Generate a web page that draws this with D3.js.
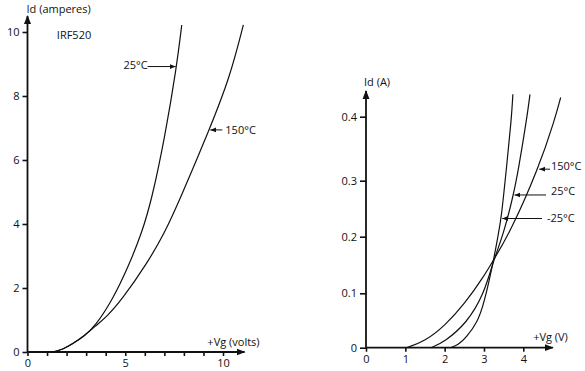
<!DOCTYPE html>
<html>
<head>
<meta charset="utf-8">
<script src="https://cdn.jsdelivr.net/npm/d3@7"></script>
<style>
  body { margin: 0; background: #fff; }
  svg { display: block; font-family: 'Open Sans', sans-serif; font-size: 11px; }
  text { fill: #111; }
</style>
</head>
<body>
<svg id="chart" width="585" height="371"></svg>
<script>
// left panel: IRF520, Id (A) vs Vg (V)
const leftCurve25 = [[1.3, 0], [1.8, 0.08], [2.3, 0.25], [2.9, 0.5], [3.45, 0.8], [4.35, 1.63], [5.16, 2.67], [5.84, 3.71], [6.35, 4.75], [7.03, 6.73], [7.63, 8.92], [7.89, 10.22]];
const leftCurve150 = [[1.3, 0], [1.8, 0.08], [2.3, 0.25], [2.9, 0.5], [3.45, 0.8], [4.05, 1.1], [4.82, 1.63], [6.1, 2.75], [7.03, 3.74], [7.78, 4.75], [9.3, 6.94], [10.36, 8.6], [11.04, 10.22]];
const leftYTicks = [0, 2, 4, 6, 8, 10];
const leftXTicks = [0, 1, 2, 3, 4, 5, 6, 7, 8, 9, 10];
const leftXLabels = [0, 5, 10];

// right panel: low current region
const rightCurve150 = [[1.03, 0], [1.5, 0.012], [2.0, 0.04], [2.5, 0.08], [3.0, 0.13], [3.25, 0.16], [3.66, 0.207], [4.38, 0.318], [4.81, 0.3975], [4.95, 0.43]];
const rightCurve25 = [[1.65, 0], [2.0, 0.011], [2.56, 0.045], [3.0, 0.098], [3.25, 0.16], [3.49, 0.203], [3.75, 0.2745], [3.88, 0.319], [4.09, 0.3975], [4.17, 0.435]];
const rightCurveM25 = [[2.14, 0], [2.35, 0.005], [2.56, 0.02], [2.82, 0.045], [3.0, 0.08], [3.25, 0.16], [3.36, 0.203], [3.44, 0.2325], [3.57, 0.319], [3.7, 0.3975], [3.735, 0.435]];
const rightYTicks = [0, 0.1, 0.2, 0.3, 0.4];
const rightXTicks = [0, 1, 2, 3, 4];

// callouts: label text and the point on the curve it points at
const leftNotes = [
  { label: '25°C', at: [7.63, 8.92], side: 'left' },
  { label: '150°C', at: [9.3, 6.94], side: 'right' }
];
const rightNotes = [
  { label: '150°C', at: [4.38, 0.318] },
  { label: '25°C', at: [3.75, 0.2745] },
  { label: '-25°C', at: [3.44, 0.2325] }
];

const svg = d3.select('#chart');
const ink = '#111';

const defs = svg.append('defs');
defs.append('marker')
  .attr('id', 'axisArrow')
  .attr('viewBox', '0 -4 9 8')
  .attr('refX', 8).attr('refY', 0)
  .attr('markerUnits', 'userSpaceOnUse')
  .attr('markerWidth', 9).attr('markerHeight', 8)
  .attr('orient', 'auto')
  .append('path').attr('d', 'M0,-3.5L9,0L0,3.5Z').attr('fill', ink);
defs.append('marker')
  .attr('id', 'noteArrow')
  .attr('viewBox', '0 -3 6 6')
  .attr('refX', 6).attr('refY', 0)
  .attr('markerUnits', 'userSpaceOnUse')
  .attr('markerWidth', 6).attr('markerHeight', 6)
  .attr('orient', 'auto')
  .append('path').attr('d', 'M0,-2.5L6,0L0,2.5Z').attr('fill', ink);

function styleAxis(g) {
  g.select('.domain').remove();
  g.selectAll('.tick line').attr('stroke', ink).attr('stroke-width', 1.6);
  g.selectAll('.tick text').attr('fill', ink).style('font-size', '11px')
    .style('font-family', "'Open Sans', sans-serif");
}

// ---------- left panel ----------
const xL = d3.scaleLinear().domain([0, 10]).range([27.5, 223]);
const yL = d3.scaleLinear().domain([0, 10]).range([352, 32]);

svg.append('g')
  .attr('transform', `translate(0,${yL(0)})`)
  .call(d3.axisBottom(xL).tickValues(leftXTicks).tickSize(4).tickPadding(3)
    .tickFormat(d => leftXLabels.includes(d) ? d : ''))
  .call(styleAxis);

svg.append('g')
  .attr('transform', `translate(${xL(0)},0)`)
  .call(d3.axisLeft(yL).tickValues(leftYTicks).tickSize(5).tickPadding(3).tickFormat(d => String(d)))
  .call(styleAxis);

svg.append('line')
  .attr('x1', xL(0)).attr('y1', yL(0)).attr('x2', xL(11.1)).attr('y2', yL(0))
  .attr('stroke', ink).attr('stroke-width', 1.8).attr('marker-end', 'url(#axisArrow)');
svg.append('line')
  .attr('x1', xL(0)).attr('y1', yL(0)).attr('x2', xL(0)).attr('y2', yL(10.5))
  .attr('stroke', ink).attr('stroke-width', 1.8).attr('marker-end', 'url(#axisArrow)');

const lineL = d3.line().x(d => xL(d[0])).y(d => yL(d[1])).curve(d3.curveBasis);
svg.selectAll('.curveL')
  .data([leftCurve25, leftCurve150])
  .enter().append('path')
  .attr('class', 'curveL')
  .attr('d', lineL)
  .attr('fill', 'none').attr('stroke', ink).attr('stroke-width', 1.2);

svg.append('text').attr('x', xL(0) - 1).attr('y', yL(10.5) - 7).attr('dy', '0.35em').text('Id (amperes)');
svg.append('text').attr('x', xL(1.5)).attr('y', yL(9.9)).attr('dy', '0.35em').text('IRF520');
svg.append('text').attr('x', xL(9.2)).attr('y', yL(0) - 10).attr('dy', '0.35em').text('+Vg (volts)');

leftNotes.forEach(n => {
  const px = xL(n.at[0]), py = yL(n.at[1]);
  if (n.side === 'left') {
    svg.append('line').attr('x1', px - 29).attr('y1', py).attr('x2', px - 1).attr('y2', py)
      .attr('stroke', ink).attr('stroke-width', 1).attr('marker-end', 'url(#noteArrow)');
    svg.append('text').attr('x', px - 29).attr('y', py - 1).attr('dy', '0.35em')
      .attr('text-anchor', 'end').text(n.label);
  } else {
    svg.append('line').attr('x1', px + 13).attr('y1', py).attr('x2', px + 1).attr('y2', py)
      .attr('stroke', ink).attr('stroke-width', 1).attr('marker-end', 'url(#noteArrow)');
    svg.append('text').attr('x', px + 16).attr('y', py).attr('dy', '0.35em').text(n.label);
  }
});

// ---------- right panel ----------
const xR = d3.scaleLinear().domain([0, 4]).range([366, 523.3]);
// hand-drawn axis: tick spacing is not quite even
const yR = d3.scaleLinear().domain(rightYTicks).range([347.7, 293.3, 236.7, 180.7, 116.7]);

svg.append('g')
  .attr('transform', `translate(0,${yR(0)})`)
  .call(d3.axisBottom(xR).tickValues(rightXTicks).tickSize(4).tickPadding(4).tickFormat(d => String(d)))
  .call(styleAxis);

svg.append('g')
  .attr('transform', `translate(${xR(0)},0)`)
  .call(d3.axisLeft(yR).tickValues(rightYTicks).tickSize(6).tickPadding(3).tickFormat(d => String(d)))
  .call(styleAxis);

svg.append('line')
  .attr('x1', xR(0)).attr('y1', yR(0)).attr('x2', xR(4.75)).attr('y2', yR(0))
  .attr('stroke', ink).attr('stroke-width', 1.8).attr('marker-end', 'url(#axisArrow)');
svg.append('line')
  .attr('x1', xR(0)).attr('y1', yR(0)).attr('x2', xR(0)).attr('y2', yR(0.44))
  .attr('stroke', ink).attr('stroke-width', 1.8).attr('marker-end', 'url(#axisArrow)');

const lineR = d3.line().x(d => xR(d[0])).y(d => yR(d[1])).curve(d3.curveBasis);
svg.selectAll('.curveR')
  .data([rightCurve150, rightCurve25, rightCurveM25])
  .enter().append('path')
  .attr('class', 'curveR')
  .attr('d', lineR)
  .attr('fill', 'none').attr('stroke', ink).attr('stroke-width', 1.2);

svg.append('text').attr('x', xR(0) - 2).attr('y', yR(0.44) - 9).attr('dy', '0.35em').text('Id (A)');
svg.append('text').attr('x', xR(4.25)).attr('y', yR(0) - 11).attr('dy', '0.35em').text('+Vg (V)');

const rightLabelX = [551, 551, 547];
const rightLineEnd = [550, 546, 542];
rightNotes.forEach((n, i) => {
  const px = xR(n.at[0]), py = yR(n.at[1]);
  svg.append('line').attr('x1', rightLineEnd[i]).attr('y1', py).attr('x2', px + 1).attr('y2', py)
    .attr('stroke', ink).attr('stroke-width', 1).attr('marker-end', 'url(#noteArrow)');
  svg.append('text').attr('x', rightLabelX[i]).attr('y', py - (i === 2 ? 0 : 3.5))
    .attr('dy', '0.35em').text(n.label);
});
</script>
</body>
</html>
